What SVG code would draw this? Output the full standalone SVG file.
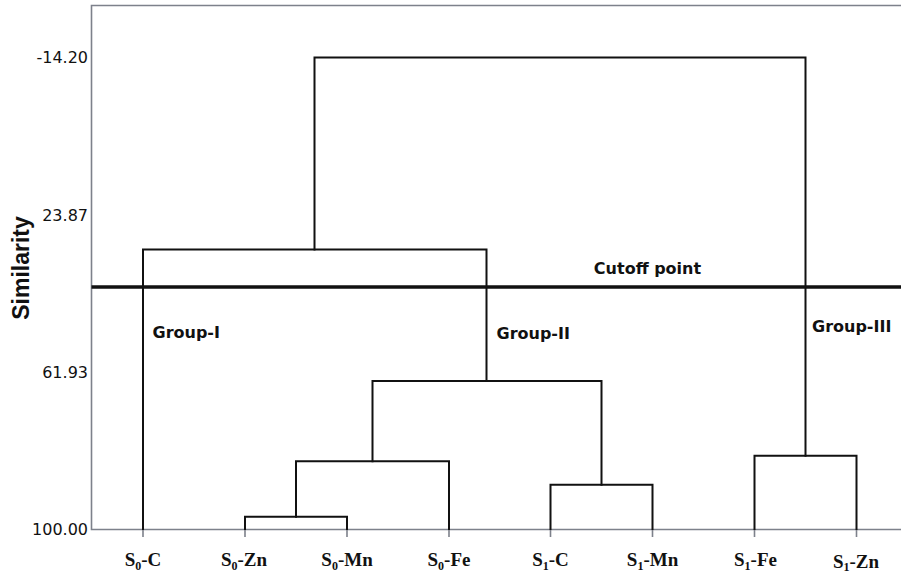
<svg xmlns="http://www.w3.org/2000/svg" width="901" height="574" viewBox="0 0 901 574">
<style>
.ax{stroke:#7d818b;stroke-width:1.6;fill:none}
.dl{stroke:#111;stroke-width:2;fill:none;stroke-linejoin:miter;stroke-linecap:square}
.tk{font-family:"DejaVu Sans",sans-serif;font-size:16px;fill:#111;text-anchor:end}
.gl{font-family:"DejaVu Sans",sans-serif;font-weight:bold;font-size:16px;fill:#111}
.lf{font-family:"Liberation Serif","Times New Roman",serif;font-weight:bold;font-size:19px;fill:#111;text-anchor:middle}
.sb{font-size:12px}
</style>
<rect width="901" height="574" fill="#fff"/>
<g id="axes">
<path class="ax" d="M901,5.5 H91.5 V529.5 H901"/>
<path class="ax" d="M143,529.5V537 M245,529.5V537 M347,529.5V537 M449,529.5V537 M550.5,529.5V537 M652.5,529.5V537 M754.5,529.5V537 M856.5,529.5V537"/>
<text class="tk" x="88" y="63">-14.20</text>
<text class="tk" x="88" y="221">23.87</text>
<text class="tk" x="88" y="377.5">61.93</text>
<text class="tk" x="88" y="535">100.00</text>
<text x="29" y="268" transform="rotate(-90 29 268)" text-anchor="middle" font-family="Liberation Sans,Arial,sans-serif" font-weight="bold" font-size="23" fill="#111">Similarity</text>
</g>
<g id="connectors">
<path class="dl" d="M245,529V516.7H347V529"/>
<path class="dl" d="M296,516.7V461.3H449V529"/>
<path class="dl" d="M550.5,529V484.7H652.5V529"/>
<path class="dl" d="M372.5,461.3V381H601.5V484.7"/>
<path class="dl" d="M143,529V249.5H486.5V381"/>
<path class="dl" d="M754.5,529V455.7H856.5V529"/>
<path class="dl" d="M314.5,249.5V57.5H805.5V455.7"/>
<path d="M91.5,287H901" stroke="#111" stroke-width="3.5"/>
</g>
<g id="cutoff"><text class="gl" x="647.5" y="274" font-size="14" text-anchor="middle">Cutoff point</text></g>
<g id="group-1"><text class="gl" x="152.5" y="338">Group-I</text></g>
<g id="group-2"><text class="gl" x="496.5" y="339">Group-II</text></g>
<g id="group-3"><text class="gl" x="812" y="332">Group-III</text></g>
<g id="leaf-s0-c"><text class="lf" x="143" y="566">S<tspan class="sb" dy="4">0</tspan><tspan dy="-4">-C</tspan></text></g>
<g id="leaf-s0-zn"><text class="lf" x="244" y="566">S<tspan class="sb" dy="4">0</tspan><tspan dy="-4">-Zn</tspan></text></g>
<g id="leaf-s0-mn"><text class="lf" x="347" y="566">S<tspan class="sb" dy="4">0</tspan><tspan dy="-4">-Mn</tspan></text></g>
<g id="leaf-s0-fe"><text class="lf" x="449" y="566">S<tspan class="sb" dy="4">0</tspan><tspan dy="-4">-Fe</tspan></text></g>
<g id="leaf-s1-c"><text class="lf" x="550.5" y="566">S<tspan class="sb" dy="4">1</tspan><tspan dy="-4">-C</tspan></text></g>
<g id="leaf-s1-mn"><text class="lf" x="652.5" y="566">S<tspan class="sb" dy="4">1</tspan><tspan dy="-4">-Mn</tspan></text></g>
<g id="leaf-s1-fe"><text class="lf" x="755.5" y="566">S<tspan class="sb" dy="4">1</tspan><tspan dy="-4">-Fe</tspan></text></g>
<g id="leaf-s1-zn"><text class="lf" x="856" y="567.5">S<tspan class="sb" dy="3">1</tspan><tspan dy="-3">-Zn</tspan></text></g>
</svg>
